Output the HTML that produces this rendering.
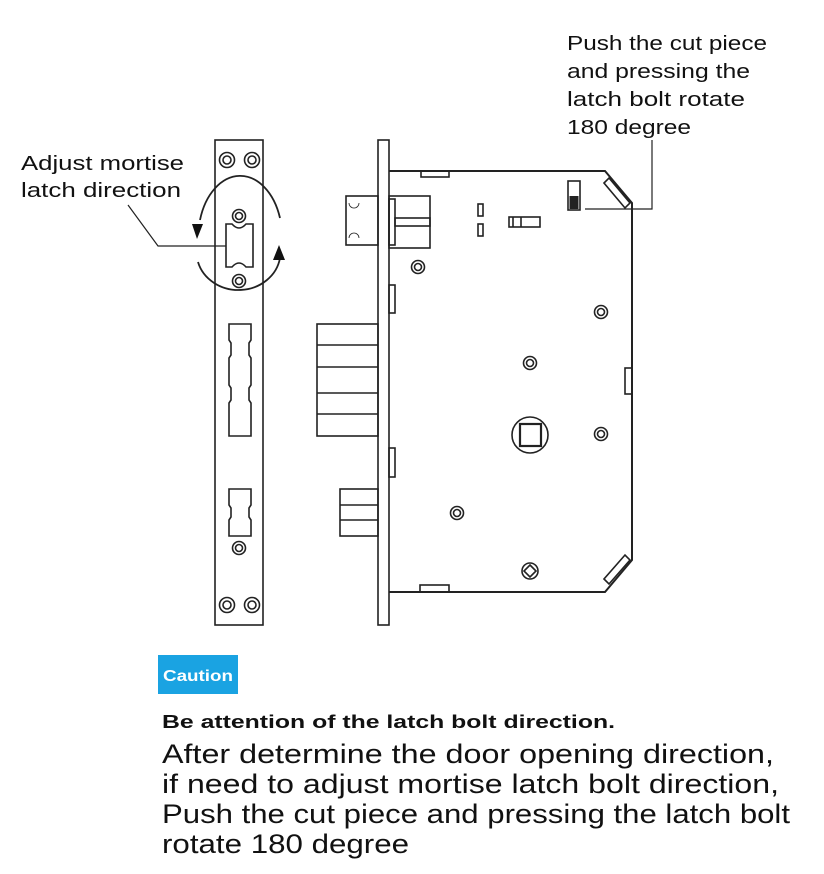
<!DOCTYPE html>
<html><head><meta charset="utf-8"><style>
html,body{margin:0;padding:0;background:#fff;}
svg{display:block;}
text{font-family:"Liberation Sans","DejaVu Sans",sans-serif;fill:#111;}
</style></head><body>
<svg width="824" height="874" viewBox="0 0 824 874" xmlns="http://www.w3.org/2000/svg">
<g fill="none" stroke="#222" stroke-width="1.6">
<!-- strike plate -->
<rect x="215" y="140" width="48" height="485"/>
<circle cx="227" cy="160" r="7.5"/><circle cx="227" cy="160" r="4"/>
<circle cx="252" cy="160" r="7.5"/><circle cx="252" cy="160" r="4"/>
<circle cx="227" cy="605" r="7.5"/><circle cx="227" cy="605" r="4"/>
<circle cx="252" cy="605" r="7.5"/><circle cx="252" cy="605" r="4"/>
<circle cx="239" cy="216" r="6.5"/><circle cx="239" cy="216" r="3.5"/>
<circle cx="239" cy="281" r="6.5"/><circle cx="239" cy="281" r="3.5"/>
<circle cx="239" cy="548" r="6.5"/><circle cx="239" cy="548" r="3.5"/>
<path d="M226,224 H232 Q239,232 246,224 H253 V267 H246 Q239,259 232,267 H226 Z"/>
<path d="M229,324 H251 V340 L249,343 V355 L251,358 V385 L249,388 V400 L251,403 V436 H229 V403 L231,400 V388 L229,385 V358 L231,355 V343 L229,340 Z"/>
<path d="M229,489 H251 V505 L249,508 V517 L251,520 V536 H229 V520 L231,517 V508 L229,505 Z"/>
<!-- arcs -->
<path d="M200,220 A42,62 0 0 1 280,218" stroke-width="1.8"/>
<path d="M198,262 A42,38 0 0 0 280,258" stroke-width="1.8"/>
<!-- leader -->
<path d="M128,205 L158,246 H226" stroke-width="1.2"/>
<!-- faceplate -->
<rect x="378" y="140" width="11" height="485"/>
<path d="M389,171 H605 L632,203 V560 L605,592 H389" stroke-width="2"/>
<rect x="421" y="171" width="28" height="6"/>
<rect x="420" y="585" width="29" height="7"/>
<rect x="625" y="368" width="7" height="26"/>
<path d="M604,183 L609,178 L630,203 L625,208 Z"/>
<path d="M604,579 L609,584 L630,560 L625,555 Z"/>
<rect x="389" y="199" width="6" height="46"/>
<rect x="389" y="285" width="6" height="28"/>
<rect x="389" y="448" width="6" height="29"/>
<!-- latch -->
<rect x="346" y="196" width="32" height="49"/>
<path d="M349,203 a5,5 0 0 0 10,0 M349,238 a5,5 0 0 1 10,0" stroke-width="0.8"/>
<rect x="389" y="196" width="41" height="52"/>
<rect x="395" y="218" width="35" height="8"/>
<!-- deadbolt -->
<rect x="317" y="324" width="61" height="112"/>
<path d="M317,345 H378 M317,367 H378 M317,393 H378 M317,414 H378"/>
<rect x="340" y="489" width="38" height="47"/>
<path d="M340,505 H378 M340,520 H378"/>
<!-- screws -->
<circle cx="418" cy="267" r="6.5"/><circle cx="418" cy="267" r="3.5"/>
<circle cx="601" cy="312" r="6.5"/><circle cx="601" cy="312" r="3.5"/>
<circle cx="530" cy="363" r="6.5"/><circle cx="530" cy="363" r="3.5"/>
<circle cx="601" cy="434" r="6.5"/><circle cx="601" cy="434" r="3.5"/>
<circle cx="457" cy="513" r="6.5"/><circle cx="457" cy="513" r="3.5"/>
<circle cx="530" cy="435" r="18"/>
<rect x="520" y="424" width="21" height="22" stroke-width="2.2"/>
<circle cx="530" cy="571" r="8"/>
<path d="M530,565 L536,571 L530,577 L524,571 Z"/>
<rect x="478" y="204" width="5" height="12"/>
<rect x="478" y="224" width="5" height="12"/>
<rect x="509" y="217" width="31" height="10"/>
<path d="M513,217 V227 M521,217 V227"/>
<rect x="568" y="181" width="12" height="29"/>
<path d="M585,209 H652 V140" stroke-width="1.2"/>
</g>
<rect x="569.5" y="196" width="9" height="13" fill="#222"/>
<path d="M192,224 L203,224 L197,239 Z" fill="#111"/>
<path d="M273,260 L285,260 L279,245 Z" fill="#111"/>
<!-- labels -->
<text x="21" y="170" font-size="20" textLength="163" lengthAdjust="spacingAndGlyphs">Adjust mortise</text>
<text x="21" y="197" font-size="20" textLength="160" lengthAdjust="spacingAndGlyphs">latch direction</text>
<text x="567" y="50" font-size="20" textLength="200" lengthAdjust="spacingAndGlyphs">Push the cut piece</text>
<text x="567" y="78" font-size="20" textLength="183" lengthAdjust="spacingAndGlyphs">and pressing the</text>
<text x="567" y="106" font-size="20" textLength="178" lengthAdjust="spacingAndGlyphs">latch bolt rotate</text>
<text x="567" y="134" font-size="20" textLength="124" lengthAdjust="spacingAndGlyphs">180 degree</text>
<rect x="158" y="655" width="80" height="39" fill="#1aa3e2"/>
<text x="163" y="681" font-size="16" font-weight="bold" style="fill:#fff" textLength="70" lengthAdjust="spacingAndGlyphs">Caution</text>
<text x="162" y="728" font-size="18" font-weight="bold" textLength="453" lengthAdjust="spacingAndGlyphs">Be attention of the latch bolt direction.</text>
<text x="162" y="763" font-size="27" textLength="612" lengthAdjust="spacingAndGlyphs">After determine the door opening direction,</text>
<text x="162" y="793" font-size="27" textLength="617" lengthAdjust="spacingAndGlyphs">if need to adjust mortise latch bolt direction,</text>
<text x="162" y="823" font-size="27" textLength="628" lengthAdjust="spacingAndGlyphs">Push the cut piece and pressing the latch bolt</text>
<text x="162" y="853" font-size="27" textLength="247" lengthAdjust="spacingAndGlyphs">rotate 180 degree</text>
</svg>
</body></html>
